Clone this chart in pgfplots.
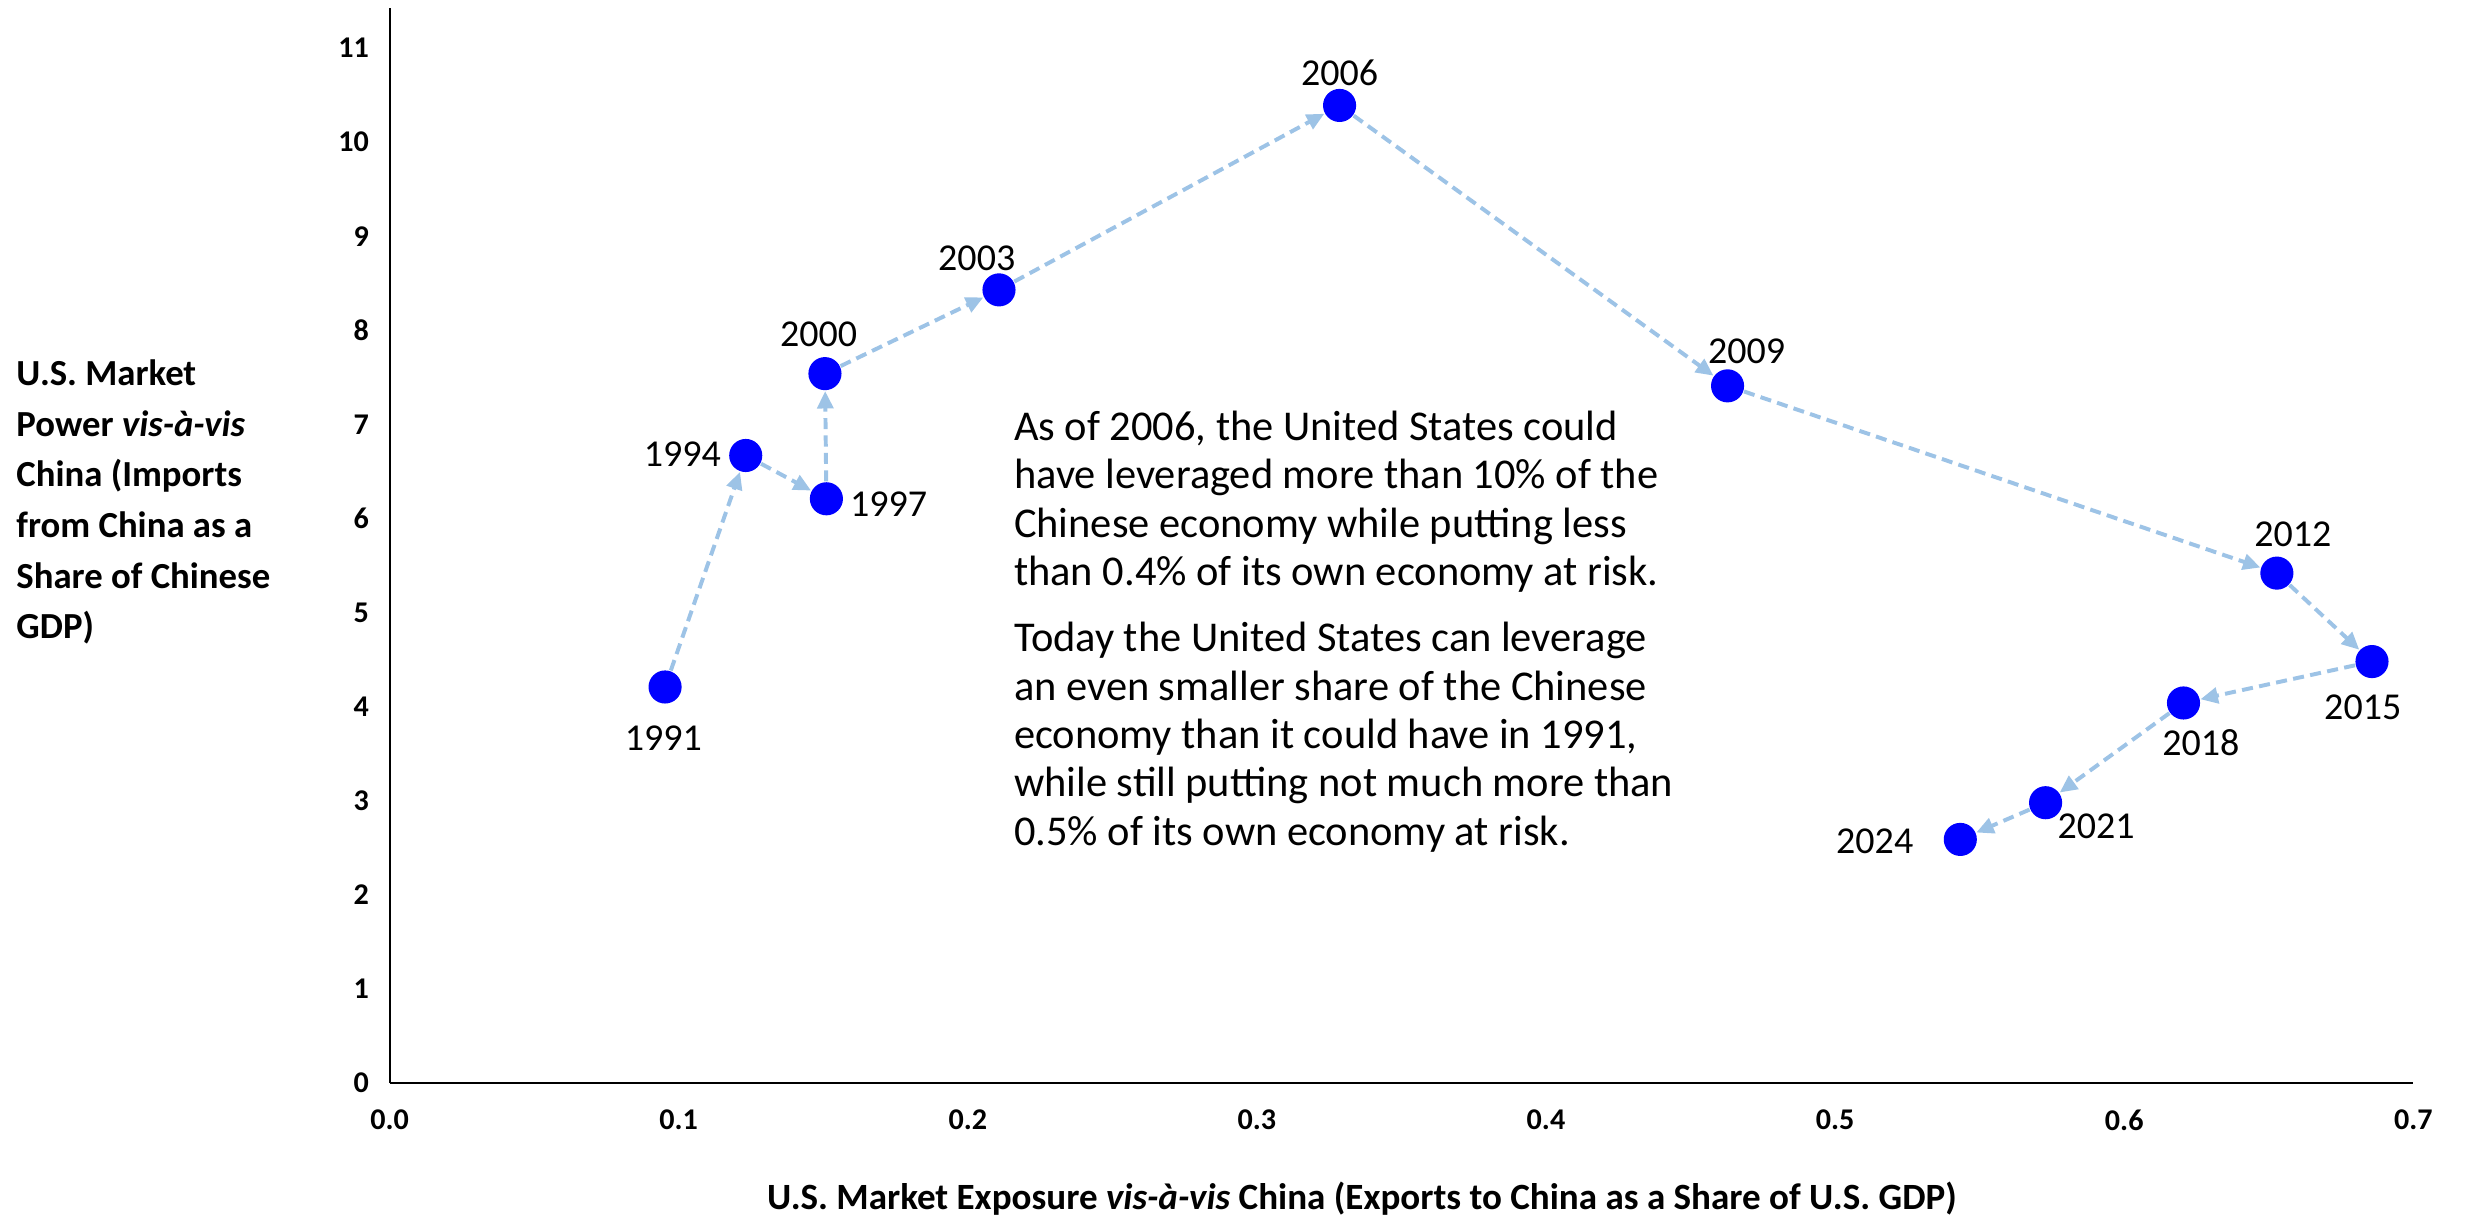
\documentclass[border=0pt]{standalone}
\usepackage{fontspec}
\setmainfont{Carlito}
\usepackage{pgfplots}
\pgfplotsset{compat=1.18}
\usetikzlibrary{arrows.meta}
\definecolor{ptblue}{RGB}{0,0,255}
\definecolor{arrblue}{RGB}{157,195,230}
\begin{document}
\begin{tikzpicture}
\begin{axis}[
  at={(0,0)}, anchor=south west,
  scale only axis,
  width=639pt, height=339.6pt,
  xmin=0, xmax=0.7, ymin=0, ymax=11.43,
  axis lines=left,
  axis line style={-, black, line width=0.6pt},
  major tick length=0pt,
  xtick={0,0.1,0.2,0.3,0.4,0.5,0.6,0.7},
  ytick={0,1,2,3,4,5,6,7,8,9,10,11},
  /pgf/number format/assume math mode=true,
  xticklabel style={/pgf/number format/fixed, /pgf/number format/fixed zerofill, /pgf/number format/precision=1, font=\bfseries\fontsize{9.5}{11}\selectfont, yshift=-5pt},
  yticklabel style={font=\bfseries\fontsize{9.5}{11}\selectfont, xshift=-3pt},
  clip=false,
  every axis plot/.append style={line width=1.25pt},
]
% arrows between consecutive years
\pgfplotsset{arr/.style={color=arrblue, dash pattern=on 3.5pt off 2pt, -{Triangle[length=5.5pt,width=5pt]}, shorten <=5.5pt, shorten >=5.5pt, no marks}}
\addplot[arr] coordinates {(0.0953,4.21) (0.1232,6.67)};
\addplot[arr] coordinates {(0.1232,6.67) (0.1511,6.21)};
\addplot[arr] coordinates {(0.1511,6.21) (0.1506,7.54)};
\addplot[arr] coordinates {(0.1506,7.54) (0.2108,8.43)};
\addplot[arr] coordinates {(0.2108,8.43) (0.3286,10.39)};
\addplot[arr] coordinates {(0.3286,10.39) (0.4628,7.41)};
\addplot[arr] coordinates {(0.4628,7.41) (0.6528,5.42)};
\addplot[arr] coordinates {(0.6528,5.42) (0.6857,4.48)};
\addplot[arr] coordinates {(0.6857,4.48) (0.6205,4.04)};
\addplot[arr] coordinates {(0.6205,4.04) (0.5728,2.98)};
\addplot[arr] coordinates {(0.5728,2.98) (0.5433,2.59)};
% points
\addplot[only marks, mark=*, mark size=4.6pt, mark options={draw=ptblue, fill=ptblue}] coordinates {
(0.0953,4.21) (0.1232,6.67) (0.1511,6.21) (0.1506,7.54) (0.2108,8.43) (0.3286,10.39)
(0.4628,7.41) (0.6528,5.42) (0.6857,4.48) (0.6205,4.04) (0.5728,2.98) (0.5433,2.59)};
% year labels
\tikzset{yl/.style={font=\fontsize{12}{14}\selectfont, inner sep=0pt}}
\node[yl] at (axis cs:0.0947,3.67) {1991};
\node[yl] at (axis cs:0.1013,6.68) {1994};
\node[yl] at (axis cs:0.1726,6.15) {1997};
\node[yl] at (axis cs:0.1484,7.96) {2000};
\node[yl] at (axis cs:0.2031,8.77) {2003};
\node[yl] at (axis cs:0.3286,10.74) {2006};
\node[yl] at (axis cs:0.4694,7.78) {2009};
\node[yl] at (axis cs:0.6583,5.83) {2012};
\node[yl] at (axis cs:0.6825,3.99) {2015};
\node[yl] at (axis cs:0.6265,3.62) {2018};
\node[yl] at (axis cs:0.5903,2.73) {2021};
\node[yl] at (axis cs:0.5137,2.57) {2024};
% annotation
\node[anchor=north west, inner sep=0pt, align=left, font=\fontsize{13.4}{15.25}\selectfont] at (axis cs:0.2158,7.15) {%
As of 2006, the United States could\\
have leveraged more than 10\% of the\\
Chinese economy while putting less\\
than 0.4\% of its own economy at risk.\\[5.8pt]
Today the United States can leverage\\
an even smaller share of the Chinese\\
economy than it could have in 1991,\\
while still putting not much more than\\
0.5\% of its own economy at risk.};
\end{axis}
% y label
\node[anchor=west, inner sep=0pt, align=left, font=\bfseries\fontsize{11.6}{16}\selectfont] at (-118pt,183.5pt) {%
U.S. Market\\
Power \textit{vis-à-vis}\\
China (Imports\\
from China as a\\
Share of Chinese\\
GDP)};
% x label
\node[inner sep=0pt, font=\bfseries\fontsize{11.7}{13}\selectfont] at (307pt,-36.5pt) {U.S. Market Exposure \textit{vis-à-vis} China (Exports to China as a Share of U.S. GDP)};
\pgfresetboundingbox
\path[use as bounding box] (-123pt,-42.5pt) rectangle (661pt,342pt);
\end{tikzpicture}
\end{document}
